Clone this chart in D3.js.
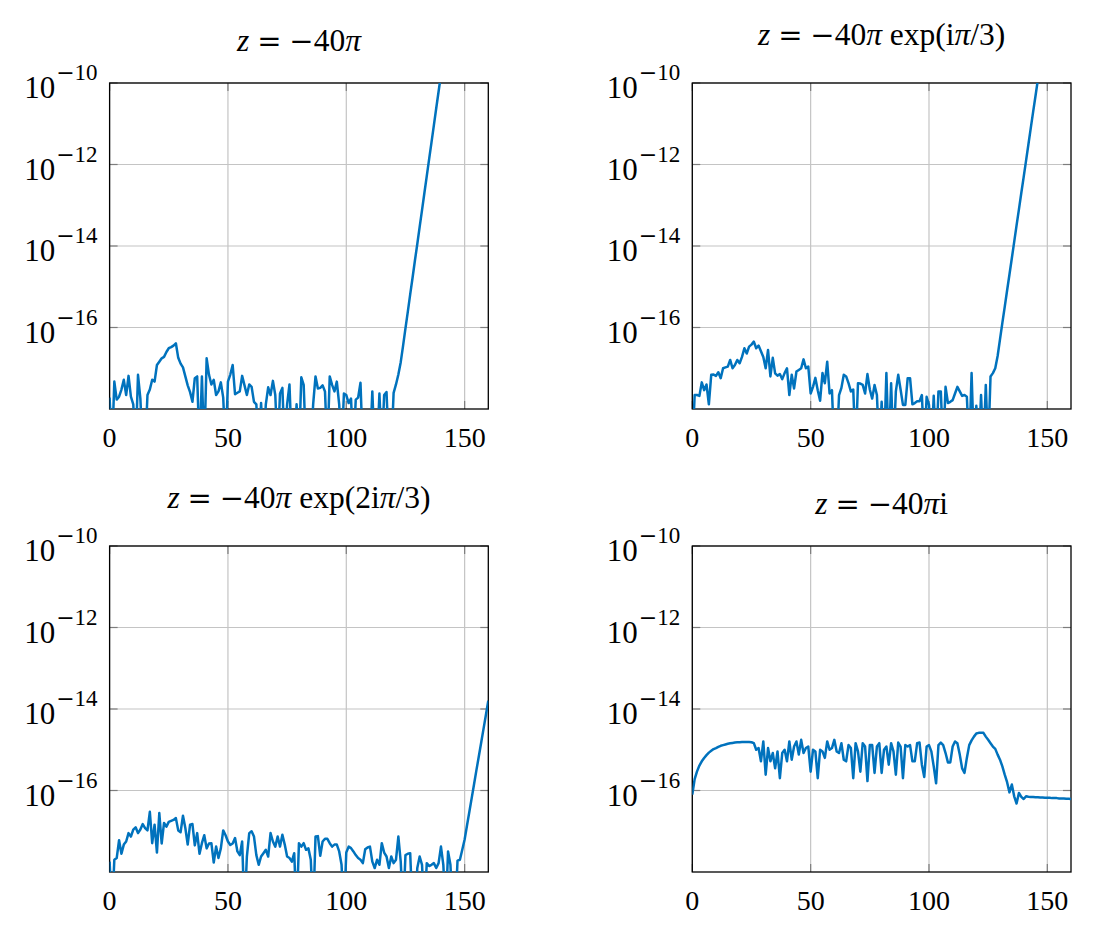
<!DOCTYPE html>
<html><head><meta charset="utf-8">
<script src="https://cdn.jsdelivr.net/npm/d3@7"></script>
<style>
body{margin:0;background:#fff}
svg text{font-family:"Liberation Serif","DejaVu Serif",serif;fill:#000}
</style>
</head><body>
<svg id="chart" width="1093" height="925"></svg>
<script>
// ---------- data (index = n, 0,1,2,...) ----------
const xTicks = [0, 50, 100, 150];
const yTicks = [1e-10, 1e-12, 1e-14, 1e-16];
const yTickBase = "10";
const yTickExp = ["10", "12", "14", "16"];   // shown as 10^(−exp)

// z = -40π
const err1 = [1.9e-18,0,4.7e-18,1.7e-18,2e-18,3e-18,5.2e-18,2.2e-18,6.5e-18,2e-18,
1.3e-18,0,6.9e-18,1.8e-18,0,0,2.2e-18,3e-18,5.2e-18,4.7e-18,
1.2e-17,1.45e-17,1.75e-17,1.9e-17,2.5e-17,3.1e-17,3.3e-17,3.6e-17,4.1e-17,1.8e-17,
1.3e-17,1.05e-17,6.3e-18,3.8e-18,2.6e-18,1.5e-18,5.7e-18,6.3e-18,0,6.3e-18,
0,1.75e-17,6.9e-18,4e-18,5.2e-18,2.2e-18,2.7e-18,4.5e-18,1.9e-18,0,
4.7e-18,7e-18,1.2e-17,2.3e-18,2.5e-18,2.7e-18,6.5e-18,3.8e-18,2.2e-18,4e-18,
3.5e-18,1.5e-18,1.3e-18,0,1.4e-18,0,1.3e-18,3.4e-18,2.2e-18,4.9e-18,
2.2e-18,0,2.4e-18,3.3e-18,0,1.3e-18,4e-18,0,0,1.3e-18,
0,6e-18,3.9e-18,0,0,0,1.3e-18,6.3e-18,3.2e-18,3.3e-18,
3.8e-18,2.7e-18,0,6.3e-18,3.9e-18,2.7e-18,4.7e-18,1.3e-18,0,2.4e-18,
2.2e-18,1.4e-18,1.8e-18,0,1.7e-18,1.9e-18,4.4e-18,0,0,0,
0,2.7e-18,0,0,2.4e-18,0,2.2e-18,2.6e-18,0,0,
2.5e-18,4e-18,7e-18,1.41e-17,3.6e-17,9.5e-17,2.45e-16,6.5e-16,1.66e-15,4.4e-15,
1.12e-14,2.95e-14,7.6e-14,2e-13,5.2e-13,1.35e-12,3.5e-12,9.1e-12,2.4e-11,6.2e-11,
1.6e-10,4.2e-10];

// z = -40π exp(iπ/3)
const err2 = [0,2.2e-18,2.2e-18,2.1e-18,4.5e-18,2.9e-18,4e-18,1.3e-18,6.9e-18,7e-18,
6.5e-18,8e-18,5.7e-18,1e-17,1.05e-17,1.1e-17,1.6e-17,1e-17,1.2e-17,1.6e-17,
1.33e-17,1.9e-17,3.1e-17,2.3e-17,3.4e-17,3.8e-17,4.5e-17,3.1e-17,3.6e-17,2.6e-17,
1.9e-17,1e-17,2.8e-17,6.3e-18,1.8e-17,7.5e-18,6.6e-18,7.2e-18,5.4e-18,7.6e-18,
1e-17,2.2e-18,6.9e-18,3.2e-18,8.3e-18,9.1e-18,1e-17,1.65e-17,1e-17,1.1e-17,
2.4e-18,3.5e-18,5.8e-18,2.9e-18,1.6e-18,7.6e-18,4.3e-18,1.45e-17,2.4e-18,2.9e-18,
0,0,2.2e-18,3.3e-18,6.9e-18,6.3e-18,4.3e-18,2.7e-18,3e-18,0,
4.3e-18,4.2e-18,3.9e-18,2.4e-18,7.2e-18,3e-18,1.8e-18,3.9e-18,2.2e-18,0,
1.5e-18,0,7.6e-18,0,4.3e-18,0,2.7e-18,6.9e-18,3e-18,1.26e-18,
1.26e-18,5.7e-18,5.7e-18,1.3e-18,1.4e-18,1.55e-18,1.55e-18,2.2e-18,0,2e-18,
1.26e-18,0,2.1e-18,0,2.7e-18,2.7e-18,0,3.5e-18,1.4e-18,1.5e-18,
1.65e-18,2.4e-18,3.5e-18,2.7e-18,2.1e-18,2.2e-18,2e-18,0,7.6e-18,0,
1.2e-18,0,2.2e-18,0,3.9e-18,0,6.3e-18,7.6e-18,1e-17,2e-17,
5.1e-17,1.3e-16,3.2e-16,8.1e-16,2e-15,5e-15,1.26e-14,3.2e-14,7.9e-14,2e-13,
4.9e-13,1.23e-12,3.1e-12,7.8e-12,1.95e-11,4.8e-11,1.2e-10,3e-10];

// z = -40π exp(2iπ/3)
const err3 = [1.8e-18,0,2e-18,2.2e-18,6e-18,2.8e-18,4.7e-18,5.6e-18,9e-18,7.4e-18,
1.1e-17,1.25e-17,9e-18,1.1e-17,1.5e-17,1.2e-17,1.05e-17,3e-17,5.1e-18,1.45e-17,
3e-18,2.8e-17,5e-18,1.6e-17,1.3e-17,1.7e-17,1.8e-17,1.9e-17,2.1e-17,1.05e-17,
9.5e-18,2.4e-17,1.2e-17,4.7e-18,1.45e-17,1.5e-17,4.5e-18,9e-18,2.8e-18,5.1e-18,
8e-18,3.8e-18,5e-18,5.1e-18,1.7e-18,4.2e-18,2.2e-18,3.8e-18,1.05e-17,8e-18,
5.6e-18,4.6e-18,5e-18,6.8e-18,3.2e-18,2.6e-18,5.6e-18,0,2.4e-18,9e-18,
1e-17,7.4e-18,2.6e-18,1.5e-18,2.4e-18,2.9e-18,3.5e-18,2.4e-18,9e-18,5.6e-18,
4.2e-18,7.4e-18,4.2e-18,8.2e-18,4.7e-18,2.4e-18,2.2e-18,1.8e-18,2.9e-18,0,
5.1e-18,4.2e-18,5.1e-18,3.5e-18,3.8e-18,2e-18,0,7.4e-18,7.6e-18,2.5e-18,
5.6e-18,6.5e-18,6.5e-18,5.1e-18,4.2e-18,4.7e-18,4.7e-18,3.2e-18,1.5e-18,0,
3e-18,4.2e-18,3.85e-18,3.2e-18,2.6e-18,2.2e-18,2e-18,1.65e-18,3.6e-18,4e-18,
4.2e-18,1.8e-18,1.25e-18,2e-18,1.5e-18,5.1e-18,3e-18,2.4e-18,1.25e-18,2.4e-18,
1.65e-18,2e-18,7.4e-18,1.8e-18,0,2.6e-18,2.8e-18,2.9e-18,0,0,
1.25e-18,2.4e-18,1.5e-18,0,1.65e-18,1.4e-18,1.5e-18,1.65e-18,1.25e-18,1.65e-18,
4.2e-18,1.5e-18,0,3.2e-18,1.5e-18,0,0,1.9e-18,2e-18,3.5e-18,
6.3e-18,1.38e-17,3e-17,6.6e-17,1.45e-16,3.2e-16,6.9e-16,1.5e-15,3.3e-15,7.2e-15,
1.6e-14];

// z = -40πi
const err4 = [7.9e-17,1.9e-16,2.95e-16,4.1e-16,5.2e-16,6.3e-16,7.4e-16,8.5e-16,9.4e-16,1.04e-15,
1.1e-15,1.18e-15,1.25e-15,1.3e-15,1.35e-15,1.4e-15,1.44e-15,1.47e-15,1.5e-15,1.52e-15,
1.53e-15,1.55e-15,1.56e-15,1.56e-15,1.55e-15,1.53e-15,1.45e-15,1e-15,1.1e-15,5.2e-16,
1.6e-15,2.45e-16,1.1e-15,5.2e-16,8.3e-16,3.5e-16,9.1e-16,2e-16,8.3e-16,1e-15,
5.2e-16,1.6e-15,5.7e-16,1.2e-15,1.6e-15,7.6e-16,1.75e-15,8.3e-16,1.1e-15,1.2e-15,
2.9e-16,1e-15,9.1e-16,2e-16,1e-15,9.1e-16,6.3e-16,1.6e-15,1e-15,1.1e-15,
1.75e-15,9.1e-16,8.3e-16,1.45e-15,5.7e-16,5.2e-16,1.3e-15,1.1e-15,2e-16,1.45e-15,
9.1e-16,2.9e-16,1.45e-15,1.2e-15,1.7e-16,1.3e-15,1.3e-15,2.7e-16,1.2e-15,1.45e-15,
2.7e-16,1e-15,1.2e-15,4.3e-16,1.45e-15,9.1e-16,2.45e-16,1.5e-15,1.2e-15,2e-16,
1.3e-15,1.2e-15,1.3e-15,5.2e-16,5.2e-16,1.45e-15,1.5e-15,4.3e-16,2.15e-16,1.2e-15,
1.3e-15,9.1e-16,3.9e-16,1.5e-16,1.3e-15,1.5e-15,1.3e-15,8.3e-16,4.9e-16,4.9e-16,
1.2e-15,1.6e-15,1.45e-15,7.6e-16,3.5e-16,2.7e-16,6.3e-16,1.3e-15,1.7e-15,2.1e-15,
2.5e-15,2.6e-15,2.6e-15,2.6e-15,2.1e-15,1.75e-15,1.45e-15,1.2e-15,1.05e-15,7.6e-16,
5.7e-16,3.9e-16,2.45e-16,1.6e-16,9e-17,1.4e-16,7.2e-17,4.8e-17,8.7e-17,7e-17,
6.2e-17,7.2e-17,7e-17,6.9e-17,6.9e-17,6.8e-17,6.8e-17,6.7e-17,6.7e-17,6.6e-17,
6.6e-17,6.6e-17,6.5e-17,6.5e-17,6.5e-17,6.4e-17,6.4e-17,6.4e-17,6.3e-17,6.3e-17,
6.2e-17];

// titles: [text, kind] segments; kind: i = italic, n = upright, o = operator glyph
const title1 = [["z","i"],[" ","n"],["=","o"],[" ","n"],["−","o"],["40","n"],["π","i"]];
const title2 = [["z","i"],[" ","n"],["=","o"],[" ","n"],["−","o"],["40","n"],["π","i"],[" exp(i","n"],["π","i"],["/3)","n"]];
const title3 = [["z","i"],[" ","n"],["=","o"],[" ","n"],["−","o"],["40","n"],["π","i"],[" exp(2i","n"],["π","i"],["/3)","n"]];
const title4 = [["z","i"],[" ","n"],["=","o"],[" ","n"],["−","o"],["40","n"],["π","i"],["i","n"]];

// ---------- layout ----------
const W = 378.7, H = 326;
const panels = [
  {left:109.6, top:83,  data:err1, title:title1, titleY:51},
  {left:692.3, top:83,  data:err2, title:title2, titleY:45},
  {left:109.6, top:546, data:err3, title:title3, titleY:508},
  {left:692.3, top:546, data:err4, title:title4, titleY:514}
];
const svg = d3.select("#chart");
const FS = 28, TFS = 31.5;

panels.forEach((p, k) => {
  const g = svg.append("g").attr("transform", `translate(${p.left},${p.top})`);
  const x = d3.scaleLinear().domain([0,160]).range([0,W]);
  const y = d3.scaleLog().domain([1e-18,1e-10]).range([H,0]);

  // grid
  g.append("g").selectAll("line").data(xTicks).join("line")
    .attr("x1",d=>x(d)).attr("x2",d=>x(d)).attr("y1",0).attr("y2",H)
    .attr("stroke","#c4c4c4").attr("stroke-width",1.2);
  g.append("g").selectAll("line").data(yTicks).join("line")
    .attr("x1",0).attr("x2",W).attr("y1",d=>y(d)).attr("y2",d=>y(d))
    .attr("stroke","#c4c4c4").attr("stroke-width",1.2);
  // tick marks (inside, both sides)
  const tl = 8;
  const tk = g.append("g").attr("stroke","#7d7d7d").attr("stroke-width",1.2);
  xTicks.forEach(d=>{
    tk.append("line").attr("x1",x(d)).attr("x2",x(d)).attr("y1",H).attr("y2",H-tl);
    tk.append("line").attr("x1",x(d)).attr("x2",x(d)).attr("y1",0).attr("y2",tl);
  });
  yTicks.forEach(d=>{
    tk.append("line").attr("x1",0).attr("x2",tl).attr("y1",y(d)).attr("y2",y(d));
    tk.append("line").attr("x1",W).attr("x2",W-tl).attr("y1",y(d)).attr("y2",y(d));
  });

  // clip + line
  const cid = "clip"+k;
  svg.append("clipPath").attr("id",cid).append("rect")
    .attr("x",p.left).attr("y",p.top).attr("width",W).attr("height",H);
  const line = d3.line()
    .x((d,i)=>x(i))
    .y(d=>y(Math.max(d,1e-19)));
  svg.append("g").attr("clip-path",`url(#${cid})`)
    .append("path").attr("transform",`translate(${p.left},${p.top})`)
    .attr("d", line(p.data))
    .attr("fill","none").attr("stroke","#0072BD").attr("stroke-width",2.5)
    .attr("stroke-linejoin","round");

  // frame
  g.append("rect").attr("x",0).attr("y",0).attr("width",W).attr("height",H)
    .attr("fill","none").attr("stroke","#000").attr("stroke-width",1.3);

  // x tick labels
  g.append("g").selectAll("text").data(xTicks).join("text")
    .attr("x",d=>x(d)).attr("y",H+38).attr("text-anchor","middle")
    .attr("font-size",FS).text(d=>d);
  // y tick labels: 10^(−n)
  yTicks.forEach((d,i)=>{
    const t = g.append("text").attr("x",-12).attr("y",y(d)+15)
      .attr("text-anchor","end").attr("font-size",31);
    t.append("tspan").text(yTickBase);
    t.append("tspan").attr("dy",-18).attr("dx",1).attr("font-size",22)
      .attr("font-family","DejaVu Serif").text("−");
    t.append("tspan").attr("font-size",23).text(yTickExp[i]);
  });

  // title
  const tt = svg.append("text").attr("x",p.left+W/2).attr("y",p.titleY)
    .attr("text-anchor","middle").attr("font-size",TFS)
    .attr("xml:space","preserve");
  p.title.forEach(s=>{
    const ts = tt.append("tspan").text(s[0]);
    if (s[1]==="i") ts.attr("font-style","italic");
    if (s[1]==="o") ts.attr("font-family","DejaVu Serif").attr("font-size",29);
  });
});
</script>
</body></html>
